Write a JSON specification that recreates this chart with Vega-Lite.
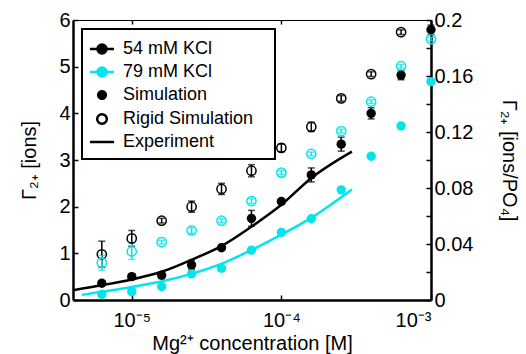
{
  "$schema": "https://vega.github.io/schema/vega-lite/v6.json",
  "width": 358,
  "height": 280,
  "autosize": "none",
  "padding": {"left": 73, "top": 20, "right": 95, "bottom": 54},
  "background": "white",
  "config": {
    "font": "Liberation Sans",
    "view": {"stroke": null},
    "axis": {
      "labelFont": "Liberation Sans",
      "labelFontSize": 20,
      "labelColor": "black",
      "titleFont": "Liberation Sans",
      "titleFontSize": 20,
      "titleFontWeight": "normal",
      "titleColor": "black",
      "domainColor": "black",
      "domainWidth": 2.5,
      "tickColor": "black",
      "tickWidth": 1.5,
      "tickSize": -5,
      "grid": false
    },
    "legend": {
      "labelFont": "Liberation Sans",
      "labelFontSize": 18,
      "labelColor": "black"
    }
  },
  "layer": [
    {
      "layer": [
        {
          "data": {"name": "lines", "values": [
            {"x": 4.05e-6, "y": 0.21, "series": "54"},
            {"x": 6.4e-6, "y": 0.32, "series": "54"},
            {"x": 1.0e-5, "y": 0.44, "series": "54"},
            {"x": 1.6e-5, "y": 0.61, "series": "54"},
            {"x": 2.5e-5, "y": 0.86, "series": "54"},
            {"x": 4.0e-5, "y": 1.16, "series": "54"},
            {"x": 6.3e-5, "y": 1.57, "series": "54"},
            {"x": 1.0e-4, "y": 2.04, "series": "54"},
            {"x": 1.58e-4, "y": 2.61, "series": "54"},
            {"x": 2.96e-4, "y": 3.18, "series": "54"},
            {"x": 4.65e-6, "y": 0.11, "series": "79"},
            {"x": 6.4e-6, "y": 0.18, "series": "79"},
            {"x": 1.0e-5, "y": 0.28, "series": "79"},
            {"x": 1.6e-5, "y": 0.40, "series": "79"},
            {"x": 2.5e-5, "y": 0.56, "series": "79"},
            {"x": 4.0e-5, "y": 0.78, "series": "79"},
            {"x": 6.3e-5, "y": 1.07, "series": "79"},
            {"x": 1.0e-4, "y": 1.40, "series": "79"},
            {"x": 1.58e-4, "y": 1.76, "series": "79"},
            {"x": 2.96e-4, "y": 2.37, "series": "79"}
          ]},
          "mark": {"type": "line", "strokeWidth": 2.5, "clip": true, "interpolate": "monotone"},
          "encoding": {
            "x": {"field": "x", "type": "quantitative",
              "scale": {"type": "log", "domain": [4.05e-6, 1e-3], "nice": false},
              "axis": {"orient": "bottom", "values": [1e-5, 1e-4, 1e-3],
                "labelExpr": "datum.value < 3e-5 ? '10⁻⁵' : datum.value < 3e-4 ? '10⁻⁴' : '10⁻³'",
                "labelPadding": 15, "title": "Mg²⁺ concentration [M]", "titlePadding": 3}},
            "y": {"field": "y", "type": "quantitative",
              "scale": {"domain": [0, 6], "nice": false},
              "axis": {"orient": "left", "values": [0, 1, 2, 3, 4, 5, 6], "labelPadding": 8,
                "title": "Γ₂₊ [ions]", "titlePadding": 19}},
            "color": {"field": "series", "type": "nominal",
              "scale": {"domain": ["54", "79"], "range": ["black", "#00e5ee"]}, "legend": null},
            "detail": {"field": "series"}
          }
        },
        {
          "data": {"name": "pts"},
          "mark": {"type": "errorbar", "ticks": {"size": 7, "thickness": 1.5}, "thickness": 1.5},
          "encoding": {
            "x": {"field": "x", "type": "quantitative",
              "axis": {"orient": "top", "values": [1e-5, 1e-4, 1e-3], "labels": false, "title": null, "domainWidth": 1.2, "tickSize": -4}},
            "y": {"field": "y", "type": "quantitative", "title": "Γ₂₊ [ions]"},
            "yError": {"field": "err"},
            "color": {"field": "series", "type": "nominal", "legend": null}
          }
        },
        {
          "data": {"name": "pts"},
          "transform": [{"filter": "datum.kind === 'rigid'"}],
          "mark": {"type": "point", "filled": false, "strokeWidth": 1.5, "size": 85, "opacity": 1},
          "encoding": {
            "x": {"field": "x", "type": "quantitative", "axis": null},
            "y": {"field": "y", "type": "quantitative", "title": "Γ₂₊ [ions]"},
            "color": {"field": "series", "type": "nominal", "legend": null}
          }
        },
        {
          "data": {"name": "pts"},
          "transform": [{"filter": "datum.kind === 'sim'"}],
          "mark": {"type": "circle", "size": 88, "opacity": 1},
          "encoding": {
            "x": {"field": "x", "type": "quantitative", "axis": null},
            "y": {"field": "y", "type": "quantitative", "title": "Γ₂₊ [ions]"},
            "color": {"field": "series", "type": "nominal", "legend": null}
          }
        },
        {
          "data": {"values": [
            {"entry": "54 mM KCl"},
            {"entry": "79 mM KCl"},
            {"entry": "Simulation"},
            {"entry": "Rigid Simulation"},
            {"entry": "Experiment"}
          ]},
          "mark": {"type": "point", "filled": true, "opacity": 0, "size": 441},
          "encoding": {
            "fill": {"field": "entry", "type": "nominal",
              "scale": {
                "domain": ["54 mM KCl", "79 mM KCl", "Simulation", "Rigid Simulation", "Experiment"],
                "range": ["black", "#00e5ee", "black", "transparent", "transparent"]},
              "legend": {
                "title": "MM",
                "titleOrient": "right",
                "titleColor": "transparent",
                "titleFontSize": 8,
                "titlePadding": 0,
                "orient": "top-left",
                "offset": 9,
                "padding": 8,
                "strokeColor": "black",
                "symbolSize": 441,
                "labelOffset": 9,
                "rowPadding": 1,
                "encode": {
                  "legend": {"update": {"strokeWidth": {"value": 2}}},
                  "symbols": {"update": {"opacity": {"value": 1}}}
                }
              }
            },
            "shape": {"field": "entry", "type": "nominal",
              "scale": {
                "domain": ["54 mM KCl", "79 mM KCl", "Simulation", "Rigid Simulation", "Experiment"],
                "range": [
                  "M-1.15,0H1.15M0.43,0A0.43,0.43,0,1,1,-0.43,0A0.43,0.43,0,1,1,0.43,0Z",
                  "M-1.15,0H1.15M0.43,0A0.43,0.43,0,1,1,-0.43,0A0.43,0.43,0,1,1,0.43,0Z",
                  "M0.48,0A0.48,0.48,0,1,1,-0.48,0A0.48,0.48,0,1,1,0.48,0Z",
                  "M0.46,0A0.46,0.46,0,1,1,-0.46,0A0.46,0.46,0,1,1,0.46,0Z",
                  "M-1.15,0H1.15"
                ]}},
            "stroke": {"field": "entry", "type": "nominal",
              "scale": {
                "domain": ["54 mM KCl", "79 mM KCl", "Simulation", "Rigid Simulation", "Experiment"],
                "range": ["black", "#00e5ee", "transparent", "black", "black"]}},
            "strokeWidth": {"field": "entry", "type": "nominal",
              "scale": {
                "domain": ["54 mM KCl", "79 mM KCl", "Simulation", "Rigid Simulation", "Experiment"],
                "range": [2.5, 2.5, 0, 1.5, 2.5]}}
          }
        }
      ],
      "resolve": {"axis": {"x": "independent"}}
    },
    {
      "data": {"values": [{}]},
      "mark": {"type": "rule", "opacity": 0},
      "encoding": {
        "y": {"datum": 0, "type": "quantitative",
          "scale": {"domain": [0, 0.2], "nice": false},
          "axis": {"orient": "right",
            "values": [0, 0.02, 0.04, 0.06, 0.08, 0.1, 0.12, 0.14, 0.16, 0.18, 0.2],
            "labelExpr": "abs(round(datum.value*100) % 4) == 0 ? format(datum.value, '~g') : ''",
            "labelPadding": 8, "title": "Γ₂₊ [ions/PO₄]", "titlePadding": 26}}
      }
    }
  ],
  "resolve": {"scale": {"y": "independent"}, "axis": {"y": "independent"}},
  "datasets": {
    "pts": [
      {"x": 6.31e-6, "y": 0.36, "err": 0.05, "series": "54", "kind": "sim"},
      {"x": 1.0e-5, "y": 0.50, "err": 0.05, "series": "54", "kind": "sim"},
      {"x": 1.585e-5, "y": 0.53, "err": 0.07, "series": "54", "kind": "sim"},
      {"x": 2.512e-5, "y": 0.75, "err": 0.10, "series": "54", "kind": "sim"},
      {"x": 3.981e-5, "y": 1.12, "err": 0.05, "series": "54", "kind": "sim"},
      {"x": 6.31e-5, "y": 1.75, "err": 0.17, "series": "54", "kind": "sim"},
      {"x": 1.0e-4, "y": 2.11, "err": 0.05, "series": "54", "kind": "sim"},
      {"x": 1.585e-4, "y": 2.68, "err": 0.15, "series": "54", "kind": "sim"},
      {"x": 2.512e-4, "y": 3.34, "err": 0.15, "series": "54", "kind": "sim"},
      {"x": 3.981e-4, "y": 4.00, "err": 0.12, "series": "54", "kind": "sim"},
      {"x": 6.31e-4, "y": 4.82, "err": 0.10, "series": "54", "kind": "sim"},
      {"x": 1.0e-3, "y": 5.79, "err": 0.10, "series": "54", "kind": "sim"},
      {"x": 6.31e-6, "y": 0.12, "err": 0.03, "series": "79", "kind": "sim"},
      {"x": 1.0e-5, "y": 0.18, "err": 0.03, "series": "79", "kind": "sim"},
      {"x": 1.585e-5, "y": 0.29, "err": 0.03, "series": "79", "kind": "sim"},
      {"x": 2.512e-5, "y": 0.56, "err": 0.03, "series": "79", "kind": "sim"},
      {"x": 3.981e-5, "y": 0.68, "err": 0.05, "series": "79", "kind": "sim"},
      {"x": 6.31e-5, "y": 1.07, "err": 0.03, "series": "79", "kind": "sim"},
      {"x": 1.0e-4, "y": 1.45, "err": 0.03, "series": "79", "kind": "sim"},
      {"x": 1.585e-4, "y": 1.74, "err": 0.03, "series": "79", "kind": "sim"},
      {"x": 2.512e-4, "y": 2.36, "err": 0.03, "series": "79", "kind": "sim"},
      {"x": 3.981e-4, "y": 3.08, "err": 0.03, "series": "79", "kind": "sim"},
      {"x": 6.31e-4, "y": 3.73, "err": 0.03, "series": "79", "kind": "sim"},
      {"x": 1.0e-3, "y": 4.68, "err": 0.03, "series": "79", "kind": "sim"},
      {"x": 6.31e-6, "y": 0.98, "err": 0.28, "series": "54", "kind": "rigid"},
      {"x": 1.0e-5, "y": 1.32, "err": 0.17, "series": "54", "kind": "rigid"},
      {"x": 1.585e-5, "y": 1.70, "err": 0.05, "series": "54", "kind": "rigid"},
      {"x": 2.512e-5, "y": 2.00, "err": 0.12, "series": "54", "kind": "rigid"},
      {"x": 3.981e-5, "y": 2.38, "err": 0.12, "series": "54", "kind": "rigid"},
      {"x": 6.31e-5, "y": 2.77, "err": 0.13, "series": "54", "kind": "rigid"},
      {"x": 1.0e-4, "y": 3.26, "err": 0.08, "series": "54", "kind": "rigid"},
      {"x": 1.585e-4, "y": 3.71, "err": 0.10, "series": "54", "kind": "rigid"},
      {"x": 2.512e-4, "y": 4.32, "err": 0.06, "series": "54", "kind": "rigid"},
      {"x": 3.981e-4, "y": 4.84, "err": 0.05, "series": "54", "kind": "rigid"},
      {"x": 6.31e-4, "y": 5.74, "err": 0.05, "series": "54", "kind": "rigid"},
      {"x": 6.31e-6, "y": 0.80, "err": 0.16, "series": "79", "kind": "rigid"},
      {"x": 1.0e-5, "y": 1.04, "err": 0.17, "series": "79", "kind": "rigid"},
      {"x": 1.585e-5, "y": 1.24, "err": 0.04, "series": "79", "kind": "rigid"},
      {"x": 2.512e-5, "y": 1.49, "err": 0.06, "series": "79", "kind": "rigid"},
      {"x": 3.981e-5, "y": 1.70, "err": 0.04, "series": "79", "kind": "rigid"},
      {"x": 6.31e-5, "y": 2.12, "err": 0.05, "series": "79", "kind": "rigid"},
      {"x": 1.0e-4, "y": 2.73, "err": 0.04, "series": "79", "kind": "rigid"},
      {"x": 1.585e-4, "y": 3.13, "err": 0.04, "series": "79", "kind": "rigid"},
      {"x": 2.512e-4, "y": 3.62, "err": 0.04, "series": "79", "kind": "rigid"},
      {"x": 3.981e-4, "y": 4.25, "err": 0.04, "series": "79", "kind": "rigid"},
      {"x": 6.31e-4, "y": 5.01, "err": 0.04, "series": "79", "kind": "rigid"},
      {"x": 1.0e-3, "y": 5.59, "err": 0.04, "series": "79", "kind": "rigid"}
    ]
  }
}
